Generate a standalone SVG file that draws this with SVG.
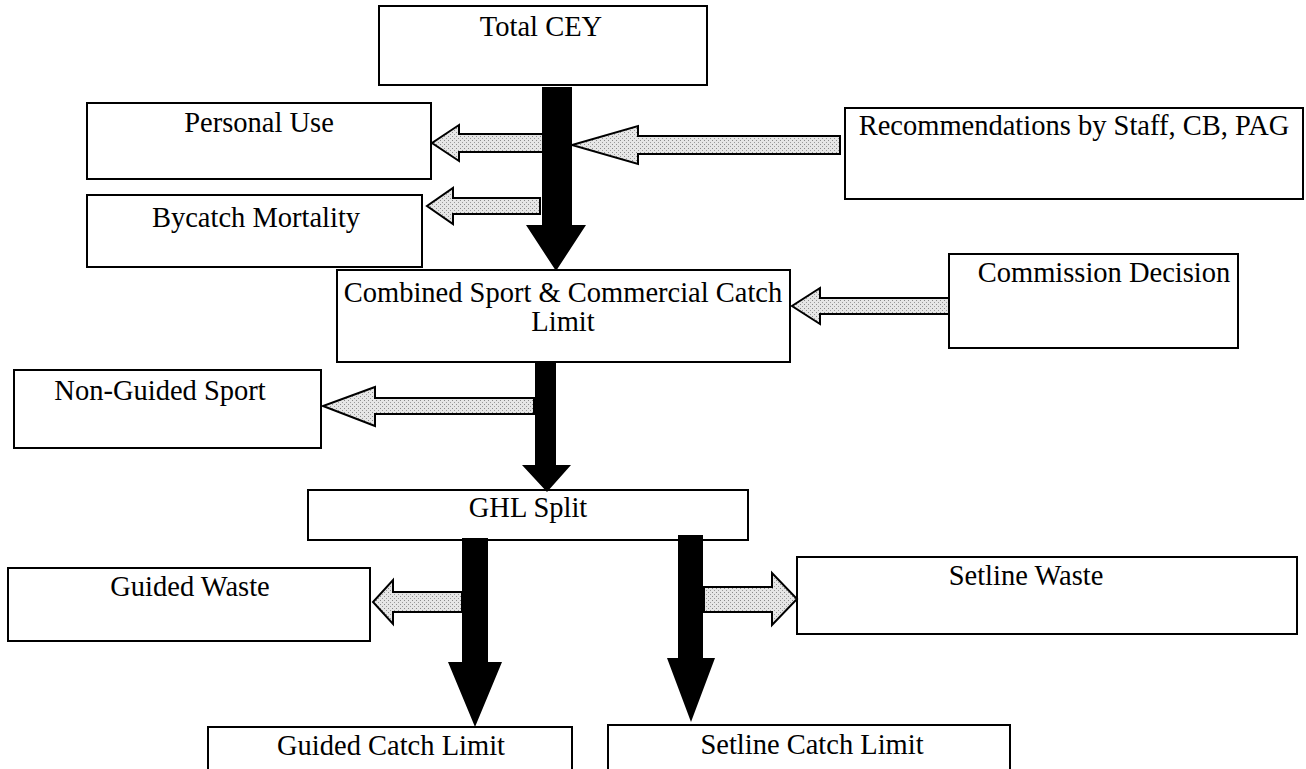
<svg xmlns="http://www.w3.org/2000/svg" width="1306" height="769" viewBox="0 0 1306 769">
<defs>
<pattern id="stip" width="4" height="4" patternUnits="userSpaceOnUse">
<rect width="4" height="4" fill="#e6e6e6"/>
<rect x="0" y="0" width="1" height="1" fill="#8a8a8a"/>
<rect x="2" y="2" width="1" height="1" fill="#9a9a9a"/>
</pattern>
<style>
.box{fill:#fff;stroke:#000;stroke-width:2}
.t{font-family:"Liberation Serif","Times New Roman",serif;font-size:28.5px;fill:#000;text-anchor:middle}
.g{fill:url(#stip);stroke:#000;stroke-width:2;stroke-linejoin:miter}
.b{fill:#000;stroke:none}
</style>
</defs>
<rect width="1306" height="769" fill="#fff"/>

<g id="total-cey"><rect class="box" x="379" y="6" width="328" height="79"/><text class="t" x="541" y="36">Total CEY</text></g>
<g id="personal-use"><rect class="box" x="87" y="103" width="344" height="76"/><text class="t" x="259" y="132">Personal Use</text></g>
<g id="bycatch"><rect class="box" x="87" y="195" width="335" height="72"/><text class="t" x="256" y="227">Bycatch Mortality</text></g>
<g id="recommendations"><rect class="box" x="845" y="108" width="458" height="91"/><text class="t" x="1074" y="135">Recommendations by Staff, CB, PAG</text></g>
<g id="combined"><rect class="box" x="337" y="270" width="453" height="92"/><text class="t" x="563" y="302">Combined Sport &amp; Commercial Catch</text><text class="t" x="563" y="331">Limit</text></g>
<g id="commission"><rect class="box" x="949" y="254" width="289" height="94"/><text class="t" x="1104" y="282">Commission Decision</text></g>
<g id="non-guided"><rect class="box" x="14" y="370" width="307" height="78"/><text class="t" x="160" y="400">Non-Guided Sport</text></g>
<g id="ghl-split"><rect class="box" x="308" y="490" width="440" height="50"/><text class="t" x="528" y="517">GHL Split</text></g>
<g id="guided-waste"><rect class="box" x="8" y="568" width="362" height="73"/><text class="t" x="190" y="596">Guided Waste</text></g>
<g id="setline-waste"><rect class="box" x="797" y="557" width="500" height="77"/><text class="t" x="1026" y="585">Setline Waste</text></g>
<g id="guided-catch"><rect class="box" x="208" y="727" width="364" height="60"/><text class="t" x="391" y="755">Guided Catch Limit</text></g>
<g id="setline-catch"><rect class="box" x="608" y="725" width="402" height="62"/><text class="t" x="812" y="754">Setline Catch Limit</text></g>

<g id="connectors">
<polygon class="g" points="840,136 638,136 638,126 572,145 638,164 638,154 840,154"/>
<polygon class="g" points="545,134 459,134 459,125 432,143 459,161 459,152 545,152"/>
<polygon class="g" points="540,198 453,198 453,188 427,206 453,224 453,214 540,214"/>
<polygon class="g" points="949,298 820,298 820,288 792,306 820,324 820,314 949,314"/>
<polygon class="g" points="534,398 375,398 375,387 323,406 375,426 375,414 534,414"/>
<polygon class="g" points="462,592 393,592 393,580 373,602 393,624 393,612 462,612"/>
<polygon class="g" points="704,587 772,587 772,573 797,599 772,625 772,612 704,612"/>

<polygon class="b" points="542,87 572,87 572,225 586,225 556,271 526,225 542,225"/>
<polygon class="b" points="535,363 556,363 556,465 571,465 547,492 522,465 535,465"/>
<polygon class="b" points="462,538 488,538 488,662 502,662 475,727 448,662 462,662"/>
<polygon class="b" points="678,535 703,535 703,658 715,658 691,722 667,658 678,658"/>
</g>
</svg>
